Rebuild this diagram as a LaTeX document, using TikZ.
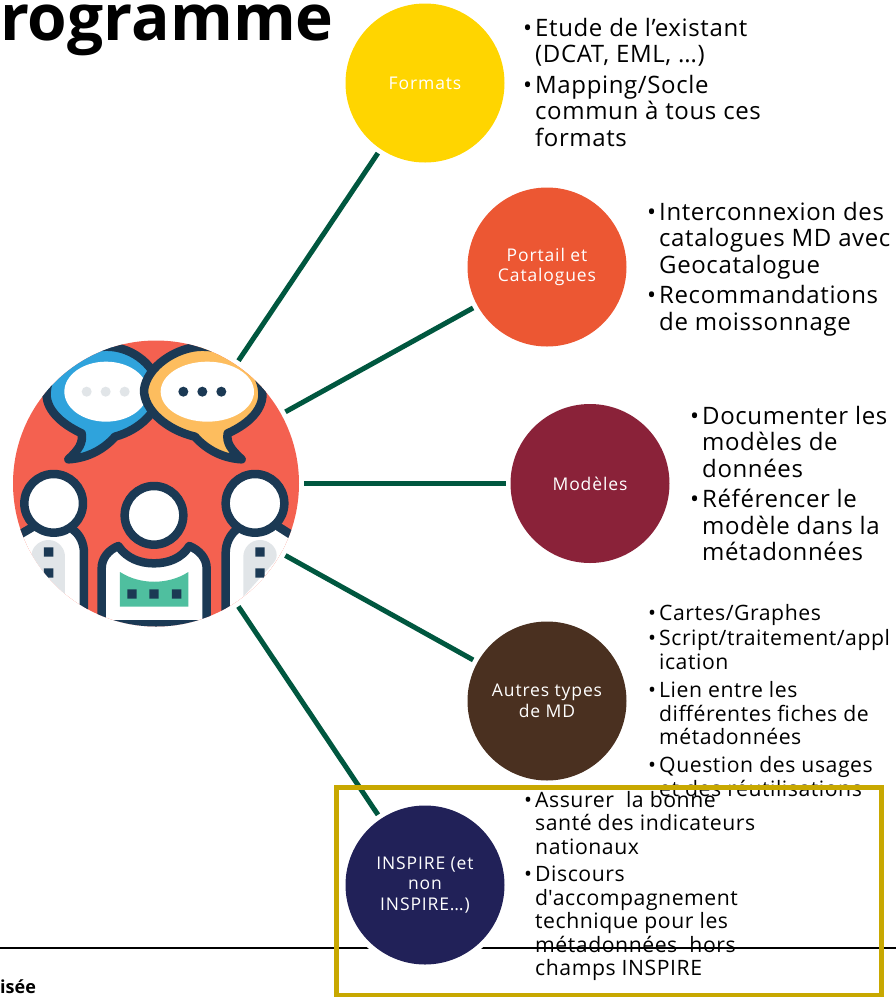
\documentclass[tikz,border=0pt]{standalone}
\usepackage{fontspec}
\setmainfont{Open Sans}
\newfontfamily\bodyfont[LetterSpace=2.6]{Open Sans}
\newfontfamily\labelfont[LetterSpace=5]{Open Sans}
\definecolor{linkgreen}{HTML}{00573F}
\definecolor{cformats}{HTML}{FFD500}
\definecolor{cportail}{HTML}{EC5733}
\definecolor{cmodeles}{HTML}{8A2239}
\definecolor{cautres}{HTML}{4A3020}
\definecolor{cinspire}{HTML}{212158}
\definecolor{boxgold}{HTML}{C8A800}
\definecolor{icred}{HTML}{F46150}
\definecolor{icnavy}{HTML}{1B3954}
\definecolor{icblue}{HTML}{2FA3DC}
\definecolor{icyellow}{HTML}{FDBD5E}
\definecolor{icgrey}{HTML}{E1E5E8}
\definecolor{icgreen}{HTML}{4FBF9F}
\newcommand{\blt}{\leavevmode\llap{\textbullet\hspace{3pt}}}
\tikzset{
  topic/.style={circle,minimum size=159pt,inner sep=0pt,outer sep=5pt,text=white,align=center,font=\labelfont\fontsize{17.5}{20.5}\selectfont},
  link/.style={draw=linkgreen,line width=5pt},
  bl/.style={anchor=north west,align=left,inner sep=0pt,text=black},
  big/.style={bl,font=\bodyfont\fontsize{24}{26.5}\selectfont},
  small/.style={bl,font=\bodyfont\fontsize{21.2}{23.5}\selectfont},
  icline/.style={draw=icnavy,line width=8.5pt,line join=round,line cap=round},
}
\begin{document}
\begin{tikzpicture}[x=1pt,y=-1pt]
\useasboundingbox (0,0) rectangle (896,997);
% footer rule
\draw[black,line width=2pt] (0,947.5) -- (896,947.5);
% hub
\node[circle,minimum size=286pt,inner sep=0pt,outer sep=5pt,fill=icred] (hub) at (156,483.5) {};
\begin{scope}
\clip (156,483.5) circle (143);
\begin{scope}[shift={(0,330)},scale=1/3]
 % left body
 \fill[white] (65,620) -- (100,592) -- (220,592) -- (252,660) -- (252,900) -- (0,900) -- (0,650) -- cycle;
 \draw[icline] (40,625) -- (100,590);
 \draw[icline] (220,600) .. controls (240,615) and (252,640) .. (252,670) -- (252,900);
 \fill[icgrey] (95,675) .. controls (95,650) and (120,630) .. (145,630) .. controls (175,630) and (195,655) .. (195,680) -- (195,800) -- (110,705) .. controls (100,695) and (95,685) .. (95,675) -- cycle;
 \fill[icnavy] (132,652) rectangle (160,680) (132,715) rectangle (160,743);
 % right body
 \fill[white] (861,620) -- (826,592) -- (706,592) -- (677,660) -- (677,900) -- (930,900) -- (930,650) -- cycle;
 \draw[icline] (890,625) -- (835,590);
 \draw[icline] (708,600) .. controls (690,615) and (677,640) .. (677,670) -- (677,900);
 \fill[icgrey] (830,675) .. controls (830,650) and (805,630) .. (780,630) .. controls (750,630) and (730,655) .. (730,680) -- (730,800) -- (815,705) .. controls (825,695) and (830,685) .. (830,675) -- cycle;
 \fill[icnavy] (766,652) rectangle (794,680) (766,715) rectangle (794,743);
 % middle body
 \draw[icline,fill=white] (305,910) -- (305,715) .. controls (305,685) and (325,660) .. (355,648) .. controls (380,685) and (420,700) .. (462,700) .. controls (505,700) and (545,685) .. (568,648) .. controls (598,660) and (620,685) .. (620,715) -- (620,910);
 \fill[icgreen] (360,726) .. controls (420,765) and (505,765) .. (565,726) -- (565,830) -- (360,830) -- cycle;
 \fill[icnavy] (382,778) rectangle (410,806) (448,778) rectangle (476,806) (516,778) rectangle (544,806);
 \fill[icnavy] (290,870) rectangle (640,900);
 % heads
 \draw[icline,fill=white] (161,520) circle (88);
 \draw[icline,fill=white] (765,520) circle (88);
 \draw[icline,fill=white] (462,556) circle (88);
 % blue bubble
 \draw[icline,fill=icblue] (205,388) .. controls (235,360) and (250,340) .. (245,310) .. controls (180,280) and (135,235) .. (140,185) .. controls (145,110) and (230,50) .. (320,50) .. controls (400,50) and (470,110) .. (480,180) .. controls (480,240) and (420,300) .. (345,320) .. controls (310,360) and (260,385) .. (205,388) -- cycle;
 \fill[white] (318,185) ellipse [x radius=125,y radius=90];
 \fill[icgrey] (260,185) circle (15) (317,185) circle (15) (374,185) circle (15);
 % yellow bubble
 \draw[icline,fill=icyellow] (725,388) .. controls (695,360) and (678,340) .. (683,310) .. controls (750,280) and (792,235) .. (787,185) .. controls (782,110) and (700,50) .. (607,50) .. controls (530,50) and (440,110) .. (432,180) .. controls (432,240) and (500,300) .. (585,320) .. controls (620,360) and (670,385) .. (725,388) -- cycle;
 \fill[white] (622,185) ellipse [x radius=140,y radius=90];
 \fill[icnavy] (550,185) circle (15) (607,185) circle (15) (664,185) circle (15);
\end{scope}
\end{scope}
% topics
\node[topic,fill=cformats] (formats) at (425,83) {Formats};
\node[topic,fill=cportail] (portail) at (547,267) {Portail et\\Catalogues};
\node[topic,fill=cmodeles] (modeles) at (590,483.5) {Modèles};
\node[topic,fill=cautres] (autres) at (547,701) {Autres types\\de MD};
\fill[white] (425,885) circle (85);
\node[topic,fill=cinspire] (inspire) at (425,885) {INSPIRE (et\\non\\INSPIRE…)};
% connectors
\draw[link] (hub) -- (formats);
\draw[link] (hub) -- (portail);
\draw[link] (hub) -- (modeles);
\draw[link] (hub) -- (autres);
\draw[link] (hub) -- (inspire);
% texts
\node[big] (tformats) at (535,18) {\blt Etude de l’existant\\(DCAT, EML, …)\\[4pt]\blt Mapping/Socle\\commun à tous ces\\formats};
\node[big] (tportail) at (659,202) {\blt Interconnexion des\\catalogues MD avec\\Geocatalogue\\[4pt]\blt Recommandations\\de moissonnage};
\node[big] (tmodeles) at (702,406) {\blt Documenter les\\modèles de\\données\\[4pt]\blt Référencer le\\modèle dans la\\métadonnées};
\node[small] (tautres) at (659,604) {\blt Cartes/Graphes\\[1.5pt]\blt Script/traitement/appl\\[1pt]ication\\[4.5pt]\blt Lien entre les\\différentes fiches de\\métadonnées\\[4.5pt]\blt Question des usages\\et des réutilisations};
\node[small] (tinspire) at (535,791) {\blt Assurer\ \ la bonne\\santé des indicateurs\\nationaux\\[4pt]\blt Discours\\d\textquotesingle accompagnement\\technique pour les\\métadonnées\ \ hors\\champs INSPIRE};
% clipped title and footer
\node[anchor=base west,inner sep=0pt,font=\fontsize{64}{64}\selectfont\bfseries] (title) at (0,40.5) {rogramme};
\node[anchor=base west,inner sep=0pt,font=\fontsize{18}{20}\selectfont\bfseries] (foot) at (0,993) {isée};
% highlight box
\draw[boxgold,line width=5pt] (336,787) rectangle (881,995);
\end{tikzpicture}
\end{document}
